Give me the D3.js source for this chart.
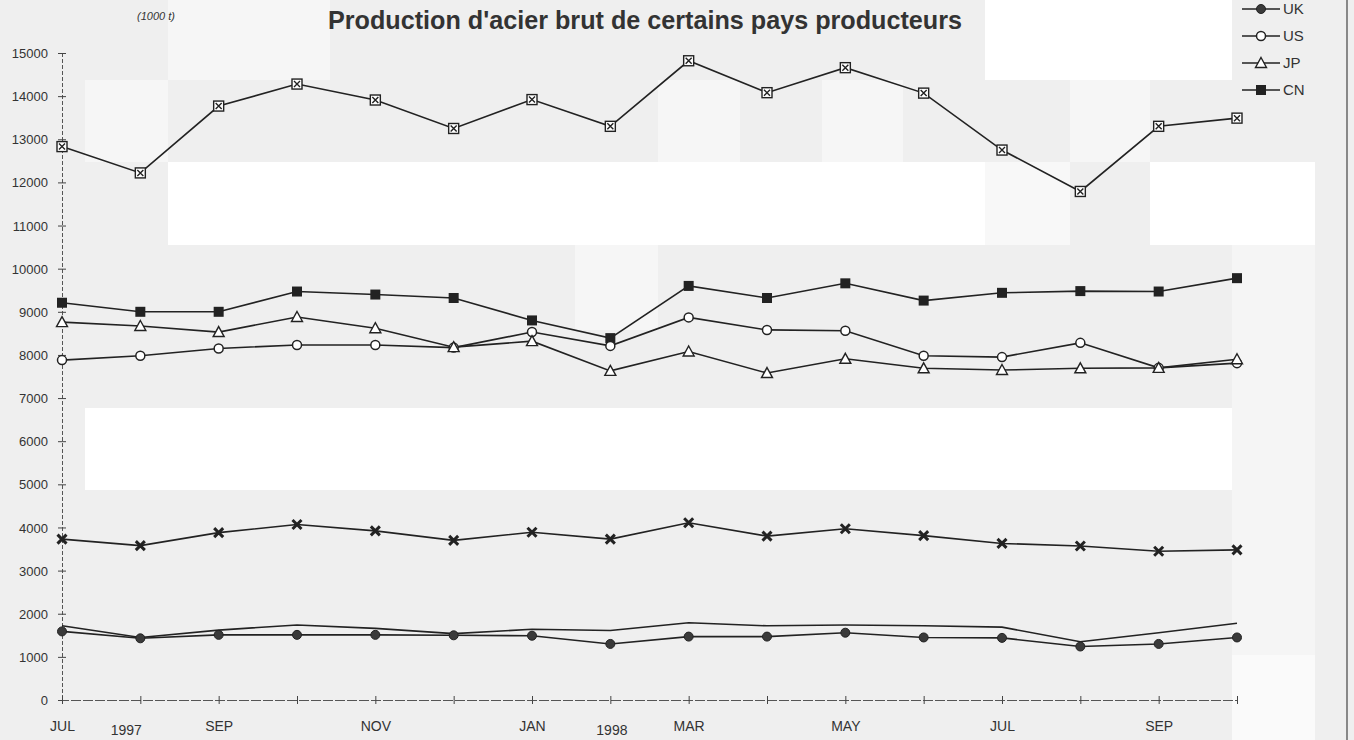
<!DOCTYPE html>
<html>
<head>
<meta charset="utf-8">
<script src="https://cdn.jsdelivr.net/npm/d3@7"></script>
<style>
  html, body { margin: 0; padding: 0; background: #efefef; }
  svg { display: block; }
  text { font-family: "Liberation Sans Narrow", "Liberation Sans", Arial, sans-serif; fill: #333; }
</style>
</head>
<body>
<svg id="chart" width="1354" height="740"></svg>
<script>
/// months Jul 1997 - Oct 1998
const months = ['JUL','AUG','SEP','OCT','NOV','DEC','JAN','FEB','MAR','APR','MAY','JUN','JUL','AUG','SEP','OCT'];
const yearLabels = ['1997', '1998'];
const yearTicks = [0.82, 7.02];
const yTicks = d3.range(0, 15001, 1000);

/// series values (1000 t)
const topSeries = [12830, 12220, 13770, 14280, 13910, 13250, 13920, 13300, 14820, 14080, 14660, 14070, 12750, 11790, 13300, 13490];
const cn = [9210, 9000, 9000, 9470, 9400, 9320, 8800, 8390, 9600, 9320, 9660, 9260, 9440, 9480, 9470, 9780];
const us = [7880, 7980, 8150, 8230, 8230, 8170, 8530, 8210, 8870, 8580, 8560, 7980, 7950, 8280, 7700, 7810];
const jp = [8760, 8670, 8530, 8880, 8620, 8180, 8320, 7630, 8080, 7580, 7910, 7690, 7650, 7690, 7700, 7900];
const xSeries = [3730, 3580, 3880, 4070, 3920, 3700, 3890, 3730, 4110, 3800, 3970, 3810, 3630, 3570, 3450, 3480];
const plain = [1720, 1450, 1620, 1740, 1660, 1540, 1640, 1610, 1790, 1720, 1740, 1720, 1690, 1350, 1560, 1780];
const uk = [1590, 1430, 1510, 1510, 1510, 1500, 1490, 1300, 1470, 1470, 1560, 1450, 1440, 1240, 1300, 1450];

const legendNames = ['UK', 'US', 'JP', 'CN'];

const svg = d3.select('#chart');

/// scanned page background blocks
const patches = [
  [85, 80, 83, 82, '#f6f6f6'],
  [168, 0, 162, 80, '#f6f6f6'],
  [168, 162, 817, 83, '#ffffff'],
  [985, 0, 247, 80, '#ffffff'],
  [985, 162, 85, 83, '#f8f8f8'],
  [1150, 162, 165, 83, '#ffffff'],
  [1070, 80, 80, 82, '#f6f6f6'],
  [658, 80, 82, 82, '#f6f6f6'],
  [822, 80, 81, 82, '#f6f6f6'],
  [575, 245, 83, 85, '#f6f6f6'],
  [85, 408, 1230, 82, '#ffffff'],
  [1232, 245, 83, 410, '#f5f5f5'],
  [1232, 655, 83, 85, '#fafafa']
];
svg.selectAll('rect.patch').data(patches).enter().append('rect')
  .attr('class', 'patch')
  .attr('x', d => d[0]).attr('y', d => d[1])
  .attr('width', d => d[2]).attr('height', d => d[3])
  .attr('fill', d => d[4]);

/// frame line on the right
svg.append('line').attr('x1', 1347).attr('x2', 1347).attr('y1', 0).attr('y2', 740)
  .attr('stroke', '#444').attr('stroke-width', 1.2);

const x = d3.scaleLinear().domain([0, months.length - 1]).range([62, 1237]);
const y = d3.scaleLinear().domain([0, 15000]).range([700, 53]);

/// y axis
const yAxis = svg.append('g').attr('transform', 'translate(62,0)')
  .call(d3.axisLeft(y).tickValues(yTicks).tickSize(4).tickFormat(d3.format('d')));
yAxis.select('.domain').attr('stroke', '#555').attr('stroke-dasharray', '4,2');
yAxis.selectAll('.tick line').attr('x2', 4).attr('x1', -4).attr('stroke', '#444');
yAxis.selectAll('.tick text').attr('x', -14).attr('dy', '0.35em')
  .style('font-size', '13px').attr('fill', '#333');

/// x axis
const xAxis = svg.append('g').attr('transform', 'translate(0,700)')
  .call(d3.axisBottom(x).tickValues(d3.range(months.length)).tickSize(4)
    .tickFormat((d, i) => i % 2 === 0 ? months[i] : ''));
xAxis.select('.domain').attr('stroke', '#555').attr('stroke-dasharray', '10,2');
xAxis.selectAll('.tick line').attr('y1', -4).attr('y2', 4).attr('stroke', '#444');
xAxis.selectAll('.tick text').attr('y', 21).style('font-size', '14px').attr('fill', '#333');

svg.append('g').selectAll('text').data(yearLabels).enter().append('text')
  .attr('x', (d, i) => x(yearTicks[i]))
  .attr('y', 735)
  .attr('text-anchor', 'middle')
  .style('font-size', '14px')
  .text(d => d);

const line = d3.line().x((d, i) => x(i)).y(d => y(d));

/// marker painters
function squareX(g) {
  g.append('rect').attr('x', -5).attr('y', -5).attr('width', 10).attr('height', 10)
    .attr('fill', '#fff').attr('stroke', '#222').attr('stroke-width', 1.4);
  g.append('path').attr('d', 'M-3,-3L3,3M3,-3L-3,3').attr('stroke', '#222').attr('stroke-width', 1.4);
}
function squareFill(g) {
  g.append('rect').attr('x', -5).attr('y', -5).attr('width', 10).attr('height', 10)
    .attr('fill', '#222');
}
function circleOpen(g) {
  g.append('circle').attr('r', 4.5).attr('fill', '#fff').attr('stroke', '#222').attr('stroke-width', 1.5);
}
function circleFill(g) {
  g.append('circle').attr('r', 4.5).attr('fill', '#3a3a3a').attr('stroke', '#222');
}
function triangleOpen(g) {
  g.append('path').attr('d', 'M0,-5.5L5.5,4.5L-5.5,4.5Z')
    .attr('fill', '#fff').attr('stroke', '#222').attr('stroke-width', 1.4);
}
function cross(g) {
  g.append('path').attr('d', 'M-4.5,-4.5L4.5,4.5M4.5,-4.5L-4.5,4.5')
    .attr('stroke', '#222').attr('stroke-width', 3);
}

const series = [
  { values: topSeries, marker: squareX },
  { values: cn, marker: squareFill },
  { values: us, marker: circleOpen },
  { values: jp, marker: triangleOpen },
  { values: xSeries, marker: cross },
  { values: plain, marker: null },
  { values: uk, marker: circleFill }
];

series.forEach(function(s) {
  svg.append('path').datum(s.values)
    .attr('d', line)
    .attr('fill', 'none')
    .attr('stroke', '#222')
    .attr('stroke-width', 1.6);
});

series.forEach(function(s) {
  if (!s.marker) return;
  svg.append('g').selectAll('g').data(s.values).enter().append('g')
    .attr('transform', (d, i) => 'translate(' + x(i) + ',' + y(d) + ')')
    .each(function() { s.marker(d3.select(this)); });
});

/// legend
const legendMarkers = [circleFill, circleOpen, triangleOpen, squareFill];
const legend = svg.append('g').attr('transform', 'translate(1242,9)');
legendNames.forEach(function(name, i) {
  const row = legend.append('g').attr('transform', 'translate(0,' + (i * 27) + ')');
  row.append('line').attr('x1', 0).attr('x2', 38).attr('stroke', '#222').attr('stroke-width', 1.6);
  legendMarkers[i](row.append('g').attr('transform', 'translate(19,0)'));
  row.append('text').attr('x', 41).attr('dy', '0.35em').style('font-size', '15px').text(name);
});

/// titles
svg.append('text')
  .attr('x', 645).attr('y', 29)
  .attr('text-anchor', 'middle')
  .attr('textLength', 634).attr('lengthAdjust', 'spacingAndGlyphs')
  .style('font-size', '25px').style('font-weight', 'bold').attr('fill', '#222')
  .text("Production d'acier brut de certains pays producteurs");

svg.append('text')
  .attr('x', 156).attr('y', 20)
  .attr('text-anchor', 'middle')
  .style('font-size', '11px').style('font-style', 'italic')
  .text('(1000 t)');
</script>
</body>
</html>
